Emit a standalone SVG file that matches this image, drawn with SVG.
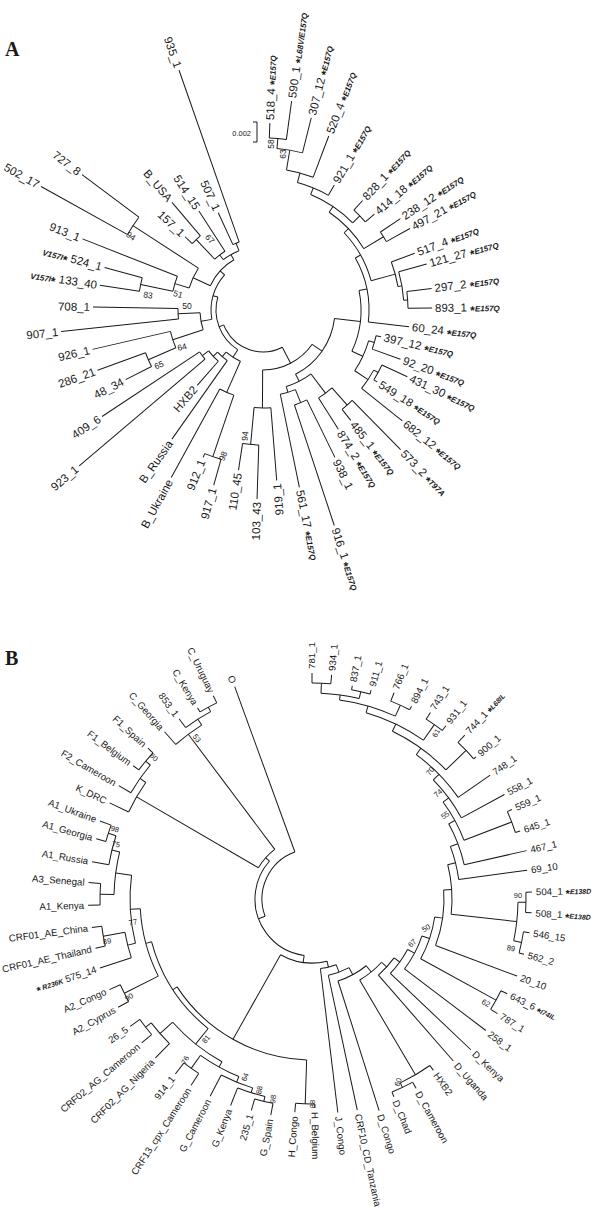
<svg xmlns="http://www.w3.org/2000/svg" width="600" height="1209" viewBox="0 0 600 1209">
<style>
.e{fill:none;stroke:#1a1a1a;stroke-width:1}
text{font-family:"Liberation Sans",Arial,sans-serif;fill:#1a1a1a}
.ta{font-size:11.5px}
.tb{font-size:9.7px}
.bs{font-size:8.5px;text-anchor:middle}
.bb{font-size:7.5px;text-anchor:middle}
.ta .s{font-weight:bold;font-size:12px}
.ta .m{font-weight:bold;font-style:italic;font-size:8px}
.tb .s{font-weight:bold;font-size:11px}
.tb .m{font-weight:bold;font-style:italic;font-size:7px}
.r{text-anchor:end}
.pl{font-family:"Liberation Serif","Times New Roman",serif;font-weight:bold;font-size:20px}
</style>
<rect width="600" height="1209" fill="#fff"/>
<text class="pl" x="5" y="56">A</text>
<text class="pl" x="5" y="665">B</text>
<g id="scalebar"><path class="e" d="M253 122H257V142H253"/><text x="251" y="136" font-size="7.5" text-anchor="end">0.002</text></g>
<g id="connectors" class="e">
<g transform="translate(263 310)">
<line x1="172" x2="187" transform="rotate(-87.9)"/><line x1="172" x2="211" transform="rotate(-82.2)"/>
<line x1="162" x2="172" transform="rotate(-85.05)"/><line x1="162" x2="198" transform="rotate(-75.9)"/>
<line x1="142" x2="162" transform="rotate(-80.48)"/><line x1="142" x2="186" transform="rotate(-69.3)"/>
<line x1="132" x2="142" transform="rotate(-74.89)"/><line x1="132" x2="144" transform="rotate(-60.3)"/>
<line x1="135" x2="148" transform="rotate(-47.7)"/><line x1="135" x2="147" transform="rotate(-40.7)"/>
<line x1="125" x2="132" transform="rotate(-67.6)"/><line x1="125" x2="135" transform="rotate(-44.2)"/>
<line x1="141" x2="165" transform="rotate(-33.6)"/><line x1="141" x2="168" transform="rotate(-29)"/>
<line x1="118" x2="125" transform="rotate(-55.9)"/><line x1="118" x2="141" transform="rotate(-31.3)"/>
<line x1="145" x2="170" transform="rotate(-7.3)"/><line x1="145" x2="169" transform="rotate(-0.7)"/>
<line x1="141" x2="170" transform="rotate(-15.7)"/><line x1="141" x2="145" transform="rotate(-4)"/>
<line x1="137" x2="162" transform="rotate(-20.5)"/><line x1="137" x2="141" transform="rotate(-9.85)"/>
<line x1="112" x2="118" transform="rotate(-43.6)"/><line x1="112" x2="137" transform="rotate(-15.18)"/>
<line x1="106" x2="112" transform="rotate(-29.39)"/><line x1="106" x2="147" transform="rotate(6.5)"/>
<line x1="116" x2="121" transform="rotate(12.8)"/><line x1="116" x2="146" transform="rotate(19.7)"/>
<line x1="131" x2="159" transform="rotate(24.8)"/><line x1="131" x2="135" transform="rotate(32.2)"/>
<line x1="126" x2="131" transform="rotate(28.5)"/><line x1="126" x2="178" transform="rotate(38.5)"/>
<line x1="110" x2="116" transform="rotate(16.25)"/><line x1="110" x2="126" transform="rotate(33.5)"/>
<line x1="98" x2="106" transform="rotate(-11.45)"/><line x1="98" x2="110" transform="rotate(24.88)"/>
<line x1="127" x2="196" transform="rotate(45.4)"/><line x1="127" x2="141" transform="rotate(51.5)"/>
<line x1="104" x2="127" transform="rotate(48.45)"/><line x1="104" x2="141" transform="rotate(57.7)"/>
<line x1="100" x2="164" transform="rotate(64)"/><line x1="100" x2="227" transform="rotate(71.7)"/>
<line x1="86" x2="100" transform="rotate(67.85)"/><line x1="86" x2="181" transform="rotate(78.4)"/>
<line x1="80" x2="104" transform="rotate(53.08)"/><line x1="80" x2="86" transform="rotate(73.13)"/>
<line x1="72" x2="98" transform="rotate(6.72)"/><line x1="72" x2="80" transform="rotate(63.1)"/>
<line x1="135" x2="189" transform="rotate(91.8)"/><line x1="135" x2="162" transform="rotate(98.7)"/>
<line x1="98" x2="171" transform="rotate(85.4)"/><line x1="98" x2="135" transform="rotate(95.25)"/>
<line x1="60" x2="72" transform="rotate(34.91)"/><line x1="60" x2="98" transform="rotate(90.33)"/>
<line x1="155" x2="182" transform="rotate(105.7)"/><line x1="155" x2="159" transform="rotate(112.1)"/>
<line x1="90" x2="155" transform="rotate(108.9)"/><line x1="90" x2="191" transform="rotate(118.7)"/>
<line x1="76" x2="241" transform="rotate(139.7)"/><line x1="76" x2="193" transform="rotate(146.5)"/>
<line x1="68" x2="100" transform="rotate(131.1)"/><line x1="68" x2="76" transform="rotate(143.1)"/>
<line x1="62" x2="158" transform="rotate(125.2)"/><line x1="62" x2="68" transform="rotate(137.1)"/>
<line x1="56" x2="90" transform="rotate(113.8)"/><line x1="56" x2="62" transform="rotate(131.15)"/>
<line x1="125" x2="154" transform="rotate(153.1)"/><line x1="125" x2="176" transform="rotate(160)"/>
<line x1="95" x2="125" transform="rotate(156.55)"/><line x1="95" x2="175" transform="rotate(167)"/>
<line x1="85" x2="203" transform="rotate(173.9)"/><line x1="85" x2="170" transform="rotate(181)"/>
<line x1="63" x2="95" transform="rotate(161.78)"/><line x1="63" x2="85" transform="rotate(177.45)"/>
<line x1="125" x2="165" transform="rotate(188.6)"/><line x1="125" x2="164" transform="rotate(195)"/>
<line x1="92" x2="125" transform="rotate(191.8)"/><line x1="92" x2="194" transform="rotate(201.5)"/>
<line x1="155" x2="254" transform="rotate(209.1)"/><line x1="155" x2="226" transform="rotate(216.8)"/>
<line x1="77" x2="92" transform="rotate(196.65)"/><line x1="77" x2="155" transform="rotate(212.95)"/>
<line x1="97" x2="107" transform="rotate(223.2)"/><line x1="97" x2="141" transform="rotate(229.8)"/>
<line x1="70" x2="97" transform="rotate(226.5)"/><line x1="70" x2="118" transform="rotate(237.1)"/>
<line x1="72" x2="107" transform="rotate(245.3)"/><line x1="72" x2="254" transform="rotate(250.7)"/>
<line x1="64" x2="70" transform="rotate(231.8)"/><line x1="64" x2="72" transform="rotate(248)"/>
<line x1="58" x2="77" transform="rotate(204.8)"/><line x1="58" x2="64" transform="rotate(239.9)"/>
<line x1="52" x2="63" transform="rotate(169.61)"/><line x1="52" x2="58" transform="rotate(222.35)"/>
<line x1="47" x2="56" transform="rotate(122.48)"/><line x1="47" x2="52" transform="rotate(195.98)"/>
<line x1="42" x2="60" transform="rotate(62.62)"/><line x1="42" x2="47" transform="rotate(159.23)"/>
<circle r="172" stroke-dasharray="17.11 2000" transform="rotate(-87.9)"/>
<circle r="162" stroke-dasharray="25.87 2000" transform="rotate(-85.05)"/>
<circle r="142" stroke-dasharray="27.71 2000" transform="rotate(-80.48)"/>
<circle r="132" stroke-dasharray="33.61 2000" transform="rotate(-74.89)"/>
<circle r="135" stroke-dasharray="16.49 2000" transform="rotate(-47.7)"/>
<circle r="125" stroke-dasharray="51.05 2000" transform="rotate(-67.6)"/>
<circle r="141" stroke-dasharray="11.32 2000" transform="rotate(-33.6)"/>
<circle r="118" stroke-dasharray="50.66 2000" transform="rotate(-55.9)"/>
<circle r="145" stroke-dasharray="16.70 2000" transform="rotate(-7.3)"/>
<circle r="141" stroke-dasharray="28.79 2000" transform="rotate(-15.7)"/>
<circle r="137" stroke-dasharray="25.47 2000" transform="rotate(-20.5)"/>
<circle r="112" stroke-dasharray="55.55 2000" transform="rotate(-43.6)"/>
<circle r="106" stroke-dasharray="66.40 2000" transform="rotate(-29.39)"/>
<circle r="116" stroke-dasharray="13.97 2000" transform="rotate(12.8)"/>
<circle r="131" stroke-dasharray="16.92 2000" transform="rotate(24.8)"/>
<circle r="126" stroke-dasharray="21.99 2000" transform="rotate(28.5)"/>
<circle r="110" stroke-dasharray="33.12 2000" transform="rotate(16.25)"/>
<circle r="98" stroke-dasharray="62.14 2000" transform="rotate(-11.45)"/>
<circle r="127" stroke-dasharray="13.52 2000" transform="rotate(45.4)"/>
<circle r="104" stroke-dasharray="16.79 2000" transform="rotate(48.45)"/>
<circle r="100" stroke-dasharray="13.44 2000" transform="rotate(64)"/>
<circle r="86" stroke-dasharray="15.84 2000" transform="rotate(67.85)"/>
<circle r="80" stroke-dasharray="27.99 2000" transform="rotate(53.08)"/>
<circle r="72" stroke-dasharray="70.85 2000" transform="rotate(6.72)"/>
<circle r="135" stroke-dasharray="16.26 2000" transform="rotate(91.8)"/>
<circle r="98" stroke-dasharray="16.85 2000" transform="rotate(85.4)"/>
<circle r="60" stroke-dasharray="58.04 2000" transform="rotate(34.91)"/>
<circle r="155" stroke-dasharray="17.31 2000" transform="rotate(105.7)"/>
<circle r="90" stroke-dasharray="15.39 2000" transform="rotate(108.9)"/>
<circle r="76" stroke-dasharray="9.02 2000" transform="rotate(139.7)"/>
<circle r="68" stroke-dasharray="14.24 2000" transform="rotate(131.1)"/>
<circle r="62" stroke-dasharray="12.88 2000" transform="rotate(125.2)"/>
<circle r="56" stroke-dasharray="16.96 2000" transform="rotate(113.8)"/>
<circle r="125" stroke-dasharray="15.05 2000" transform="rotate(153.1)"/>
<circle r="95" stroke-dasharray="17.33 2000" transform="rotate(156.55)"/>
<circle r="85" stroke-dasharray="10.53 2000" transform="rotate(173.9)"/>
<circle r="63" stroke-dasharray="17.23 2000" transform="rotate(161.78)"/>
<circle r="125" stroke-dasharray="13.96 2000" transform="rotate(188.6)"/>
<circle r="92" stroke-dasharray="15.58 2000" transform="rotate(191.8)"/>
<circle r="155" stroke-dasharray="20.83 2000" transform="rotate(209.1)"/>
<circle r="77" stroke-dasharray="21.91 2000" transform="rotate(196.65)"/>
<circle r="97" stroke-dasharray="11.17 2000" transform="rotate(223.2)"/>
<circle r="70" stroke-dasharray="12.95 2000" transform="rotate(226.5)"/>
<circle r="72" stroke-dasharray="6.79 2000" transform="rotate(245.3)"/>
<circle r="64" stroke-dasharray="18.10 2000" transform="rotate(231.8)"/>
<circle r="58" stroke-dasharray="35.53 2000" transform="rotate(204.8)"/>
<circle r="52" stroke-dasharray="47.87 2000" transform="rotate(169.61)"/>
<circle r="47" stroke-dasharray="60.29 2000" transform="rotate(122.48)"/>
<circle r="42" stroke-dasharray="70.82 2000" transform="rotate(62.62)"/>
</g>
<g transform="translate(312 899)">
<line x1="216" x2="226" transform="rotate(-90)"/><line x1="216" x2="225" transform="rotate(-85)"/>
<line x1="213" x2="217" transform="rotate(-79.3)"/><line x1="213" x2="217" transform="rotate(-74.2)"/>
<line x1="206" x2="216" transform="rotate(-87.5)"/><line x1="206" x2="213" transform="rotate(-76.75)"/>
<line x1="213" x2="222" transform="rotate(-68.3)"/><line x1="213" x2="217" transform="rotate(-62.7)"/>
<line x1="201" x2="206" transform="rotate(-82.13)"/><line x1="201" x2="213" transform="rotate(-65.5)"/>
<line x1="213" x2="221" transform="rotate(-57.6)"/><line x1="213" x2="219" transform="rotate(-52.3)"/>
<line x1="194" x2="201" transform="rotate(-73.81)"/><line x1="194" x2="213" transform="rotate(-54.95)"/>
<line x1="214" x2="224" transform="rotate(-47)"/><line x1="214" x2="217" transform="rotate(-40.9)"/>
<line x1="186" x2="194" transform="rotate(-64.38)"/><line x1="186" x2="214" transform="rotate(-43.95)"/>
<line x1="178" x2="186" transform="rotate(-54.16)"/><line x1="178" x2="217" transform="rotate(-34.8)"/>
<line x1="170" x2="178" transform="rotate(-44.48)"/><line x1="170" x2="219" transform="rotate(-28.5)"/>
<line x1="214" x2="219" transform="rotate(-24.1)"/><line x1="214" x2="219" transform="rotate(-18.1)"/>
<line x1="163" x2="170" transform="rotate(-36.49)"/><line x1="163" x2="214" transform="rotate(-21.1)"/>
<line x1="156" x2="163" transform="rotate(-28.8)"/><line x1="156" x2="220" transform="rotate(-12.7)"/>
<line x1="148" x2="156" transform="rotate(-20.75)"/><line x1="148" x2="217" transform="rotate(-7.6)"/>
<line x1="214" x2="220" transform="rotate(-1.8)"/><line x1="214" x2="220" transform="rotate(3.6)"/>
<line x1="214" x2="220" transform="rotate(8.8)"/><line x1="214" x2="219" transform="rotate(14.6)"/>
<line x1="206" x2="214" transform="rotate(0.9)"/><line x1="206" x2="214" transform="rotate(11.7)"/>
<line x1="140" x2="148" transform="rotate(-14.18)"/><line x1="140" x2="206" transform="rotate(6.3)"/>
<line x1="132" x2="140" transform="rotate(-3.94)"/><line x1="132" x2="219" transform="rotate(20.6)"/>
<line x1="210" x2="217" transform="rotate(25.9)"/><line x1="210" x2="218" transform="rotate(31.7)"/>
<line x1="124" x2="132" transform="rotate(8.33)"/><line x1="124" x2="210" transform="rotate(28.8)"/>
<line x1="116" x2="124" transform="rotate(18.57)"/><line x1="116" x2="218" transform="rotate(37.1)"/>
<line x1="108" x2="116" transform="rotate(27.84)"/><line x1="108" x2="219" transform="rotate(43.5)"/>
<line x1="101" x2="108" transform="rotate(35.67)"/><line x1="101" x2="215" transform="rotate(48.9)"/>
<line x1="209" x2="216" transform="rotate(61.2)"/><line x1="209" x2="214" transform="rotate(67.5)"/>
<line x1="204" x2="210" transform="rotate(54.7)"/><line x1="204" x2="209" transform="rotate(64.35)"/>
<line x1="94" x2="101" transform="rotate(42.29)"/><line x1="94" x2="204" transform="rotate(59.53)"/>
<line x1="86" x2="94" transform="rotate(50.91)"/><line x1="86" x2="222" transform="rotate(72.4)"/>
<line x1="78" x2="86" transform="rotate(61.66)"/><line x1="78" x2="216" transform="rotate(77.9)"/>
<line x1="70" x2="78" transform="rotate(69.78)"/><line x1="70" x2="215" transform="rotate(83.1)"/>
<line x1="205" x2="209" transform="rotate(89.2)"/><line x1="205" x2="214" transform="rotate(94.6)"/>
<line x1="208" x2="220" transform="rotate(100.8)"/><line x1="208" x2="220" transform="rotate(106)"/>
<line x1="203" x2="208" transform="rotate(103.4)"/><line x1="203" x2="222" transform="rotate(111.5)"/>
<line x1="198" x2="203" transform="rotate(107.45)"/><line x1="198" x2="222" transform="rotate(117.3)"/>
<line x1="208" x2="222" transform="rotate(123)"/><line x1="208" x2="222" transform="rotate(128)"/>
<line x1="192" x2="198" transform="rotate(112.38)"/><line x1="192" x2="208" transform="rotate(125.5)"/>
<line x1="210" x2="223" transform="rotate(139.8)"/><line x1="210" x2="222" transform="rotate(145)"/>
<line x1="203" x2="223" transform="rotate(134.6)"/><line x1="203" x2="210" transform="rotate(142.4)"/>
<line x1="186" x2="192" transform="rotate(118.94)"/><line x1="186" x2="203" transform="rotate(138.5)"/>
<line x1="210" x2="222" transform="rotate(150.8)"/><line x1="210" x2="222" transform="rotate(155.9)"/>
<line x1="212" x2="222" transform="rotate(167.2)"/><line x1="212" x2="222" transform="rotate(172.6)"/>
<line x1="190" x2="223" transform="rotate(162)"/><line x1="190" x2="212" transform="rotate(169.9)"/>
<line x1="212" x2="224" transform="rotate(178.4)"/><line x1="212" x2="224" transform="rotate(184.2)"/>
<line x1="214" x2="224" transform="rotate(195.6)"/><line x1="214" x2="226" transform="rotate(200.2)"/>
<line x1="206" x2="223" transform="rotate(189.6)"/><line x1="206" x2="214" transform="rotate(197.9)"/>
<line x1="198" x2="212" transform="rotate(181.3)"/><line x1="198" x2="206" transform="rotate(193.75)"/>
<line x1="182" x2="190" transform="rotate(165.95)"/><line x1="182" x2="198" transform="rotate(187.53)"/>
<line x1="172" x2="210" transform="rotate(153.35)"/><line x1="172" x2="182" transform="rotate(176.74)"/>
<line x1="166" x2="186" transform="rotate(128.72)"/><line x1="166" x2="172" transform="rotate(165.05)"/>
<line x1="161" x2="205" transform="rotate(91.9)"/><line x1="161" x2="166" transform="rotate(146.89)"/>
<line x1="64" x2="70" transform="rotate(76.44)"/><line x1="64" x2="161" transform="rotate(119.4)"/>
<line x1="216" x2="223" transform="rotate(216.7)"/><line x1="216" x2="223" transform="rotate(222.6)"/>
<line x1="210" x2="224" transform="rotate(210.4)"/><line x1="210" x2="216" transform="rotate(219.65)"/>
<line x1="203" x2="224" transform="rotate(205.4)"/><line x1="203" x2="210" transform="rotate(215.03)"/>
<line x1="218" x2="223" transform="rotate(239.1)"/><line x1="218" x2="226" transform="rotate(244.1)"/>
<line x1="213" x2="224" transform="rotate(233.6)"/><line x1="213" x2="218" transform="rotate(241.6)"/>
<line x1="206" x2="223" transform="rotate(228.6)"/><line x1="206" x2="213" transform="rotate(237.6)"/>
<line x1="62" x2="203" transform="rotate(210.21)"/><line x1="62" x2="206" transform="rotate(233.1)"/>
<line x1="57" x2="64" transform="rotate(97.92)"/><line x1="57" x2="62" transform="rotate(221.66)"/>
<line x1="50" x2="57" transform="rotate(159.79)"/><line x1="50" x2="226" transform="rotate(250)"/>
<circle r="216" stroke-dasharray="18.85 2000" transform="rotate(-90)"/>
<circle r="213" stroke-dasharray="18.96 2000" transform="rotate(-79.3)"/>
<circle r="206" stroke-dasharray="38.65 2000" transform="rotate(-87.5)"/>
<circle r="213" stroke-dasharray="20.82 2000" transform="rotate(-68.3)"/>
<circle r="201" stroke-dasharray="58.34 2000" transform="rotate(-82.13)"/>
<circle r="213" stroke-dasharray="19.70 2000" transform="rotate(-57.6)"/>
<circle r="194" stroke-dasharray="63.86 2000" transform="rotate(-73.81)"/>
<circle r="214" stroke-dasharray="22.78 2000" transform="rotate(-47)"/>
<circle r="186" stroke-dasharray="66.32 2000" transform="rotate(-64.38)"/>
<circle r="178" stroke-dasharray="60.15 2000" transform="rotate(-54.16)"/>
<circle r="170" stroke-dasharray="47.41 2000" transform="rotate(-44.48)"/>
<circle r="214" stroke-dasharray="22.41 2000" transform="rotate(-24.1)"/>
<circle r="163" stroke-dasharray="43.78 2000" transform="rotate(-36.49)"/>
<circle r="156" stroke-dasharray="43.84 2000" transform="rotate(-28.8)"/>
<circle r="148" stroke-dasharray="33.97 2000" transform="rotate(-20.75)"/>
<circle r="214" stroke-dasharray="20.17 2000" transform="rotate(-1.8)"/>
<circle r="214" stroke-dasharray="21.66 2000" transform="rotate(8.8)"/>
<circle r="206" stroke-dasharray="38.83 2000" transform="rotate(0.9)"/>
<circle r="140" stroke-dasharray="50.04 2000" transform="rotate(-14.18)"/>
<circle r="132" stroke-dasharray="56.54 2000" transform="rotate(-3.94)"/>
<circle r="210" stroke-dasharray="21.26 2000" transform="rotate(25.9)"/>
<circle r="124" stroke-dasharray="44.30 2000" transform="rotate(8.33)"/>
<circle r="116" stroke-dasharray="37.52 2000" transform="rotate(18.57)"/>
<circle r="108" stroke-dasharray="29.52 2000" transform="rotate(27.84)"/>
<circle r="101" stroke-dasharray="23.32 2000" transform="rotate(35.67)"/>
<circle r="209" stroke-dasharray="22.98 2000" transform="rotate(61.2)"/>
<circle r="204" stroke-dasharray="34.36 2000" transform="rotate(54.7)"/>
<circle r="94" stroke-dasharray="28.28 2000" transform="rotate(42.29)"/>
<circle r="86" stroke-dasharray="32.26 2000" transform="rotate(50.91)"/>
<circle r="78" stroke-dasharray="22.11 2000" transform="rotate(61.66)"/>
<circle r="70" stroke-dasharray="16.27 2000" transform="rotate(69.78)"/>
<circle r="205" stroke-dasharray="19.32 2000" transform="rotate(89.2)"/>
<circle r="208" stroke-dasharray="18.88 2000" transform="rotate(100.8)"/>
<circle r="203" stroke-dasharray="28.52 2000" transform="rotate(103.4)"/>
<circle r="198" stroke-dasharray="34.04 2000" transform="rotate(107.45)"/>
<circle r="208" stroke-dasharray="18.15 2000" transform="rotate(123)"/>
<circle r="192" stroke-dasharray="43.97 2000" transform="rotate(112.38)"/>
<circle r="210" stroke-dasharray="19.06 2000" transform="rotate(139.8)"/>
<circle r="203" stroke-dasharray="27.64 2000" transform="rotate(134.6)"/>
<circle r="186" stroke-dasharray="63.50 2000" transform="rotate(118.94)"/>
<circle r="210" stroke-dasharray="18.69 2000" transform="rotate(150.8)"/>
<circle r="212" stroke-dasharray="19.98 2000" transform="rotate(167.2)"/>
<circle r="190" stroke-dasharray="26.20 2000" transform="rotate(162)"/>
<circle r="212" stroke-dasharray="21.46 2000" transform="rotate(178.4)"/>
<circle r="214" stroke-dasharray="17.18 2000" transform="rotate(195.6)"/>
<circle r="206" stroke-dasharray="29.84 2000" transform="rotate(189.6)"/>
<circle r="198" stroke-dasharray="43.02 2000" transform="rotate(181.3)"/>
<circle r="182" stroke-dasharray="68.55 2000" transform="rotate(165.95)"/>
<circle r="172" stroke-dasharray="70.22 2000" transform="rotate(153.35)"/>
<circle r="166" stroke-dasharray="105.26 2000" transform="rotate(128.72)"/>
<circle r="161" stroke-dasharray="154.52 2000" transform="rotate(91.9)"/>
<circle r="64" stroke-dasharray="47.99 2000" transform="rotate(76.44)"/>
<circle r="216" stroke-dasharray="22.24 2000" transform="rotate(216.7)"/>
<circle r="210" stroke-dasharray="33.90 2000" transform="rotate(210.4)"/>
<circle r="203" stroke-dasharray="34.12 2000" transform="rotate(205.4)"/>
<circle r="218" stroke-dasharray="19.02 2000" transform="rotate(239.1)"/>
<circle r="213" stroke-dasharray="29.74 2000" transform="rotate(233.6)"/>
<circle r="206" stroke-dasharray="32.36 2000" transform="rotate(228.6)"/>
<circle r="62" stroke-dasharray="24.77 2000" transform="rotate(210.21)"/>
<circle r="57" stroke-dasharray="123.10 2000" transform="rotate(97.92)"/>
<circle r="50" stroke-dasharray="78.72 2000" transform="rotate(159.79)"/>
</g>
</g>
<g id="leaves-A" class="ta" transform="translate(263 310)">
<g id="a_518_4"><text transform="rotate(-87.9) translate(190 0)" y="4">518_4 <tspan class="s" dy="3">*</tspan><tspan class="m" dy="-3">E157Q</tspan></text></g>
<g id="a_590_1"><text transform="rotate(-82.2) translate(214 0)" y="4">590_1 <tspan class="s" dy="3">*</tspan><tspan class="m" dy="-3">L68V/E157Q</tspan></text></g>
<g id="a_307_12"><text transform="rotate(-75.9) translate(201 0)" y="4">307_12 <tspan class="s" dy="3">*</tspan><tspan class="m" dy="-3">E157Q</tspan></text></g>
<g id="a_520_4"><text transform="rotate(-69.3) translate(189 0)" y="4">520_4 <tspan class="s" dy="3">*</tspan><tspan class="m" dy="-3">E157Q</tspan></text></g>
<g id="a_921_1"><text transform="rotate(-60.3) translate(147 0)" y="4">921_1 <tspan class="s" dy="3">*</tspan><tspan class="m" dy="-3">E157Q</tspan></text></g>
<g id="a_828_1"><text transform="rotate(-47.7) translate(151 0)" y="4">828_1 <tspan class="s" dy="3">*</tspan><tspan class="m" dy="-3">E157Q</tspan></text></g>
<g id="a_414_18"><text transform="rotate(-40.7) translate(150 0)" y="4">414_18 <tspan class="s" dy="3">*</tspan><tspan class="m" dy="-3">E157Q</tspan></text></g>
<g id="a_238_12"><text transform="rotate(-33.6) translate(168 0)" y="4">238_12 <tspan class="s" dy="3">*</tspan><tspan class="m" dy="-3">E157Q</tspan></text></g>
<g id="a_497_21"><text transform="rotate(-29) translate(171 0)" y="4">497_21 <tspan class="s" dy="3">*</tspan><tspan class="m" dy="-3">E157Q</tspan></text></g>
<g id="a_517_4"><text transform="rotate(-20.5) translate(165 0)" y="4">517_4 <tspan class="s" dy="3">*</tspan><tspan class="m" dy="-3">E157Q</tspan></text></g>
<g id="a_121_27"><text transform="rotate(-15.7) translate(173 0)" y="4">121_27 <tspan class="s" dy="3">*</tspan><tspan class="m" dy="-3">E157Q</tspan></text></g>
<g id="a_297_2"><text transform="rotate(-7.3) translate(173 0)" y="4">297_2 <tspan class="s" dy="3">*</tspan><tspan class="m" dy="-3">E157Q</tspan></text></g>
<g id="a_893_1"><text transform="rotate(-0.7) translate(172 0)" y="4">893_1 <tspan class="s" dy="3">*</tspan><tspan class="m" dy="-3">E157Q</tspan></text></g>
<g id="a_60_24"><text transform="rotate(6.5) translate(150 0)" y="4">60_24 <tspan class="s" dy="3">*</tspan><tspan class="m" dy="-3">E157Q</tspan></text></g>
<g id="a_397_12"><text transform="rotate(12.8) translate(124 0)" y="4">397_12 <tspan class="s" dy="3">*</tspan><tspan class="m" dy="-3">E157Q</tspan></text></g>
<g id="a_92_20"><text transform="rotate(19.7) translate(149 0)" y="4">92_20 <tspan class="s" dy="3">*</tspan><tspan class="m" dy="-3">E157Q</tspan></text></g>
<g id="a_431_30"><text transform="rotate(24.8) translate(162 0)" y="4">431_30 <tspan class="s" dy="3">*</tspan><tspan class="m" dy="-3">E157Q</tspan></text></g>
<g id="a_549_18"><text transform="rotate(32.2) translate(138 0)" y="4">549_18 <tspan class="s" dy="3">*</tspan><tspan class="m" dy="-3">E157Q</tspan></text></g>
<g id="a_682_12"><text transform="rotate(38.5) translate(181 0)" y="4">682_12 <tspan class="s" dy="3">*</tspan><tspan class="m" dy="-3">E157Q</tspan></text></g>
<g id="a_573_2"><text transform="rotate(45.4) translate(199 0)" y="4">573_2 <tspan class="s" dy="3">*</tspan><tspan class="m" dy="-3">T97A</tspan></text></g>
<g id="a_485_1"><text transform="rotate(51.5) translate(144 0)" y="4">485_1 <tspan class="s" dy="3">*</tspan><tspan class="m" dy="-3">E157Q</tspan></text></g>
<g id="a_874_2"><text transform="rotate(57.7) translate(144 0)" y="4">874_2 <tspan class="s" dy="3">*</tspan><tspan class="m" dy="-3">E157Q</tspan></text></g>
<g id="a_938_1"><text transform="rotate(64) translate(167 0)" y="4">938_1</text></g>
<g id="a_916_1"><text transform="rotate(71.7) translate(230 0)" y="4">916_1 <tspan class="s" dy="3">*</tspan><tspan class="m" dy="-3">E157Q</tspan></text></g>
<g id="a_561_17"><text transform="rotate(78.4) translate(184 0)" y="4">561_17 <tspan class="s" dy="3">*</tspan><tspan class="m" dy="-3">E157Q</tspan></text></g>
<g id="a_919_1"><text class="r" transform="rotate(85.4) translate(174 0) rotate(180)" y="4">919_1</text></g>
<g id="a_103_43"><text class="r" transform="rotate(91.8) translate(192 0) rotate(180)" y="4">103_43</text></g>
<g id="a_110_45"><text class="r" transform="rotate(98.7) translate(165 0) rotate(180)" y="4">110_45</text></g>
<g id="a_917_1"><text class="r" transform="rotate(105.7) translate(185 0) rotate(180)" y="4">917_1</text></g>
<g id="a_912_1"><text class="r" transform="rotate(112.1) translate(162 0) rotate(180)" y="4">912_1</text></g>
<g id="a_B_Ukraine"><text class="r" transform="rotate(118.7) translate(194 0) rotate(180)" y="4">B_Ukraine</text></g>
<g id="a_B_Russia"><text class="r" transform="rotate(125.2) translate(161 0) rotate(180)" y="4">B_Russia</text></g>
<g id="a_HXB2"><text class="r" transform="rotate(131.1) translate(103 0) rotate(180)" y="4">HXB2</text></g>
<g id="a_923_1"><text class="r" transform="rotate(139.7) translate(244 0) rotate(180)" y="4">923_1</text></g>
<g id="a_409_6"><text class="r" transform="rotate(146.5) translate(196 0) rotate(180)" y="4">409_6</text></g>
<g id="a_48_34"><text class="r" transform="rotate(153.1) translate(157 0) rotate(180)" y="4">48_34</text></g>
<g id="a_286_21"><text class="r" transform="rotate(160) translate(179 0) rotate(180)" y="4">286_21</text></g>
<g id="a_926_1"><text class="r" transform="rotate(167) translate(178 0) rotate(180)" y="4">926_1</text></g>
<g id="a_907_1"><text class="r" transform="rotate(173.9) translate(206 0) rotate(180)" y="4">907_1</text></g>
<g id="a_708_1"><text class="r" transform="rotate(181) translate(173 0) rotate(180)" y="4">708_1</text></g>
<g id="a_133_40"><text class="r" transform="rotate(188.6) translate(168 0) rotate(180)" y="4"><tspan class="m">V157I</tspan><tspan class="s" dy="3">*</tspan><tspan dy="-3"> 133_40</tspan></text></g>
<g id="a_524_1"><text class="r" transform="rotate(195) translate(167 0) rotate(180)" y="4"><tspan class="m">V157I</tspan><tspan class="s" dy="3">*</tspan><tspan dy="-3"> 524_1</tspan></text></g>
<g id="a_913_1"><text class="r" transform="rotate(201.5) translate(197 0) rotate(180)" y="4">913_1</text></g>
<g id="a_502_17"><text class="r" transform="rotate(209.1) translate(257 0) rotate(180)" y="4">502_17</text></g>
<g id="a_727_8"><text class="r" transform="rotate(216.8) translate(229 0) rotate(180)" y="4">727_8</text></g>
<g id="a_157_1"><text class="r" transform="rotate(223.2) translate(110 0) rotate(180)" y="4">157_1</text></g>
<g id="a_B_USA"><text class="r" transform="rotate(229.8) translate(144 0) rotate(180)" y="4">B_USA</text></g>
<g id="a_514_15"><text class="r" transform="rotate(237.1) translate(121 0) rotate(180)" y="4">514_15</text></g>
<g id="a_507_1"><text class="r" transform="rotate(245.3) translate(110 0) rotate(180)" y="4">507_1</text></g>
<g id="a_935_1"><text class="r" transform="rotate(250.7) translate(257 0) rotate(180)" y="4">935_1</text></g>
</g>
<g id="bootstrap-A" class="bs">
<text transform="translate(271 144) rotate(-90)" y="3">58</text>
<text transform="translate(283 154) rotate(-90)" y="3">63</text>
<text transform="translate(131 236) rotate(33)" y="3">94</text>
<text transform="translate(210 239) rotate(47)" y="3">67</text>
<text transform="translate(148 295) rotate(8)" y="3">83</text>
<text transform="translate(178 294) rotate(15)" y="3">51</text>
<text transform="translate(187 306)" y="3">50</text>
<text transform="translate(182 347) rotate(-15)" y="3">64</text>
<text transform="translate(159 365) rotate(-22)" y="3">65</text>
<text transform="translate(223 456) rotate(-68)" y="3">98</text>
<text transform="translate(245 436) rotate(-85)" y="3">94</text>
</g>
<g id="leaves-B" class="tb" transform="translate(312 899)">
<g id="b_781_1"><text transform="rotate(-90) translate(230 0)" y="3.4">781_1</text></g>
<g id="b_934_1"><text transform="rotate(-85) translate(229 0)" y="3.4">934_1</text></g>
<g id="b_837_1"><text transform="rotate(-79.3) translate(221 0)" y="3.4">837_1</text></g>
<g id="b_911_1"><text transform="rotate(-74.2) translate(221 0)" y="3.4">911_1</text></g>
<g id="b_766_1"><text transform="rotate(-68.3) translate(226 0)" y="3.4">766_1</text></g>
<g id="b_894_1"><text transform="rotate(-62.7) translate(221 0)" y="3.4">894_1</text></g>
<g id="b_743_1"><text transform="rotate(-57.6) translate(225 0)" y="3.4">743_1</text></g>
<g id="b_931_1"><text transform="rotate(-52.3) translate(223 0)" y="3.4">931_1</text></g>
<g id="b_744_1"><text transform="rotate(-47) translate(228 0)" y="3.4">744_1 <tspan class="s" dy="3">*</tspan><tspan class="m" dy="-3">L68IL</tspan></text></g>
<g id="b_900_1"><text transform="rotate(-40.9) translate(221 0)" y="3.4">900_1</text></g>
<g id="b_748_1"><text transform="rotate(-34.8) translate(221 0)" y="3.4">748_1</text></g>
<g id="b_558_1"><text transform="rotate(-28.5) translate(223 0)" y="3.4">558_1</text></g>
<g id="b_559_1"><text transform="rotate(-24.1) translate(223 0)" y="3.4">559_1</text></g>
<g id="b_645_1"><text transform="rotate(-18.1) translate(223 0)" y="3.4">645_1</text></g>
<g id="b_467_1"><text transform="rotate(-12.7) translate(224 0)" y="3.4">467_1</text></g>
<g id="b_69_10"><text transform="rotate(-7.6) translate(221 0)" y="3.4">69_10</text></g>
<g id="b_504_1"><text transform="rotate(-1.8) translate(224 0)" y="3.4">504_1 <tspan class="s" dy="3">*</tspan><tspan class="m" dy="-3">E138D</tspan></text></g>
<g id="b_508_1"><text transform="rotate(3.6) translate(224 0)" y="3.4">508_1 <tspan class="s" dy="3">*</tspan><tspan class="m" dy="-3">E138D</tspan></text></g>
<g id="b_546_15"><text transform="rotate(8.8) translate(224 0)" y="3.4">546_15</text></g>
<g id="b_562_2"><text transform="rotate(14.6) translate(223 0)" y="3.4">562_2</text></g>
<g id="b_20_10"><text transform="rotate(20.6) translate(223 0)" y="3.4">20_10</text></g>
<g id="b_643_6"><text transform="rotate(25.9) translate(221 0)" y="3.4">643_6 <tspan class="s" dy="3">*</tspan><tspan class="m" dy="-3">I74IL</tspan></text></g>
<g id="b_787_1"><text transform="rotate(31.7) translate(222 0)" y="3.4">787_1</text></g>
<g id="b_258_1"><text transform="rotate(37.1) translate(222 0)" y="3.4">258_1</text></g>
<g id="b_D_Kenya"><text transform="rotate(43.5) translate(223 0)" y="3.4">D_Kenya</text></g>
<g id="b_D_Uganda"><text transform="rotate(48.9) translate(219 0)" y="3.4">D_Uganda</text></g>
<g id="b_HXB2"><text transform="rotate(54.7) translate(214 0)" y="3.4">HXB2</text></g>
<g id="b_D_Cameroon"><text transform="rotate(61.2) translate(220 0)" y="3.4">D_Cameroon</text></g>
<g id="b_D_Chad"><text transform="rotate(67.5) translate(218 0)" y="3.4">D_Chad</text></g>
<g id="b_D_Congo"><text transform="rotate(72.4) translate(226 0)" y="3.4">D_Congo</text></g>
<g id="b_CRF10_CD_Tanzania"><text transform="rotate(77.9) translate(220 0)" y="3.4">CRF10_CD_Tanzania</text></g>
<g id="b_J_Congo"><text transform="rotate(83.1) translate(219 0)" y="3.4">J_Congo</text></g>
<g id="b_H_Belgium"><text transform="rotate(89.2) translate(213 0)" y="3.4">H_Belgium</text></g>
<g id="b_H_Congo"><text class="r" transform="rotate(94.6) translate(218 0) rotate(180)" y="3.4">H_Congo</text></g>
<g id="b_G_Spain"><text class="r" transform="rotate(100.8) translate(224 0) rotate(180)" y="3.4">G_Spain</text></g>
<g id="b_235_1"><text class="r" transform="rotate(106) translate(224 0) rotate(180)" y="3.4">235_1</text></g>
<g id="b_G_Kenya"><text class="r" transform="rotate(111.5) translate(226 0) rotate(180)" y="3.4">G_Kenya</text></g>
<g id="b_G_Cameroon"><text class="r" transform="rotate(117.3) translate(226 0) rotate(180)" y="3.4">G_Cameroon</text></g>
<g id="b_CRF13_cpx_Cameroon"><text class="r" transform="rotate(123) translate(226 0) rotate(180)" y="3.4">CRF13_cpx_Cameroon</text></g>
<g id="b_914_1"><text class="r" transform="rotate(128) translate(226 0) rotate(180)" y="3.4">914_1</text></g>
<g id="b_CRF02_AG_Nigeria"><text class="r" transform="rotate(134.6) translate(227 0) rotate(180)" y="3.4">CRF02_AG_Nigeria</text></g>
<g id="b_CRF02_AG_Cameroon"><text class="r" transform="rotate(139.8) translate(227 0) rotate(180)" y="3.4">CRF02_AG_Cameroon</text></g>
<g id="b_26_5"><text class="r" transform="rotate(145) translate(226 0) rotate(180)" y="3.4">26_5</text></g>
<g id="b_A2_Cyprus"><text class="r" transform="rotate(150.8) translate(226 0) rotate(180)" y="3.4">A2_Cyprus</text></g>
<g id="b_A2_Congo"><text class="r" transform="rotate(155.9) translate(226 0) rotate(180)" y="3.4">A2_Congo</text></g>
<g id="b_575_14"><text class="r" transform="rotate(162) translate(227 0) rotate(180)" y="3.4"><tspan class="s" dy="3">*</tspan><tspan class="m" dy="-3"> R236K</tspan> 575_14</text></g>
<g id="b_CRF01_AE_Thailand"><text class="r" transform="rotate(167.2) translate(226 0) rotate(180)" y="3.4">CRF01_AE_Thailand</text></g>
<g id="b_CRF01_AE_China"><text class="r" transform="rotate(172.6) translate(226 0) rotate(180)" y="3.4">CRF01_AE_China</text></g>
<g id="b_A1_Kenya"><text class="r" transform="rotate(178.4) translate(228 0) rotate(180)" y="3.4">A1_Kenya</text></g>
<g id="b_A3_Senegal"><text class="r" transform="rotate(184.2) translate(228 0) rotate(180)" y="3.4">A3_Senegal</text></g>
<g id="b_A1_Russia"><text class="r" transform="rotate(189.6) translate(227 0) rotate(180)" y="3.4">A1_Russia</text></g>
<g id="b_A1_Georgia"><text class="r" transform="rotate(195.6) translate(228 0) rotate(180)" y="3.4">A1_Georgia</text></g>
<g id="b_A1_Ukraine"><text class="r" transform="rotate(200.2) translate(230 0) rotate(180)" y="3.4">A1_Ukraine</text></g>
<g id="b_K_DRC"><text class="r" transform="rotate(205.4) translate(228 0) rotate(180)" y="3.4">K_DRC</text></g>
<g id="b_F2_Cameroon"><text class="r" transform="rotate(210.4) translate(228 0) rotate(180)" y="3.4">F2_Cameroon</text></g>
<g id="b_F1_Belgium"><text class="r" transform="rotate(216.7) translate(227 0) rotate(180)" y="3.4">F1_Belgium</text></g>
<g id="b_F1_Spain"><text class="r" transform="rotate(222.6) translate(227 0) rotate(180)" y="3.4">F1_Spain</text></g>
<g id="b_C_Georgia"><text class="r" transform="rotate(228.6) translate(227 0) rotate(180)" y="3.4">C_Georgia</text></g>
<g id="b_853_1"><text class="r" transform="rotate(233.6) translate(228 0) rotate(180)" y="3.4">853_1</text></g>
<g id="b_C_Kenya"><text class="r" transform="rotate(239.1) translate(227 0) rotate(180)" y="3.4">C_Kenya</text></g>
<g id="b_C_Uruguay"><text class="r" transform="rotate(244.1) translate(230 0) rotate(180)" y="3.4">C_Uruguay</text></g>
<g id="b_O"><text class="r" transform="rotate(250) translate(230 0) rotate(180)" y="3.4">O</text></g>
</g>
<g id="bootstrap-B" class="bb">
<text transform="translate(197 738) rotate(52)" y="2.7">53</text>
<text transform="translate(154 757) rotate(45)" y="2.7">60</text>
<text transform="translate(115 829) rotate(15)" y="2.7">98</text>
<text transform="translate(116 844) rotate(10)" y="2.7">75</text>
<text transform="translate(133 922) rotate(-10)" y="2.7">77</text>
<text transform="translate(107 941) rotate(-10)" y="2.7">89</text>
<text transform="translate(129 997) rotate(-30)" y="2.7">90</text>
<text transform="translate(206 1039) rotate(-50)" y="2.7">81</text>
<text transform="translate(185 1060) rotate(-62)" y="2.7">76</text>
<text transform="translate(245 1077) rotate(-70)" y="2.7">64</text>
<text transform="translate(259 1090) rotate(-80)" y="2.7">88</text>
<text transform="translate(273 1099) rotate(-85)" y="2.7">98</text>
<text transform="translate(312 1104) rotate(-90)" y="2.7">88</text>
<text transform="translate(398 1082) rotate(-70)" y="2.7">60</text>
<text transform="translate(412 943) rotate(-45)" y="2.7">67</text>
<text transform="translate(426 928) rotate(-30)" y="2.7">50</text>
<text transform="translate(486 1003) rotate(30)" y="2.7">62</text>
<text transform="translate(511 948) rotate(10)" y="2.7">89</text>
<text transform="translate(518 895)" y="2.7">90</text>
<text transform="translate(436 733) rotate(-60)" y="2.7">61</text>
<text transform="translate(430 771) rotate(-50)" y="2.7">70</text>
<text transform="translate(438 793) rotate(-40)" y="2.7">74</text>
<text transform="translate(445 815) rotate(-35)" y="2.7">55</text>
</g>
</svg>
